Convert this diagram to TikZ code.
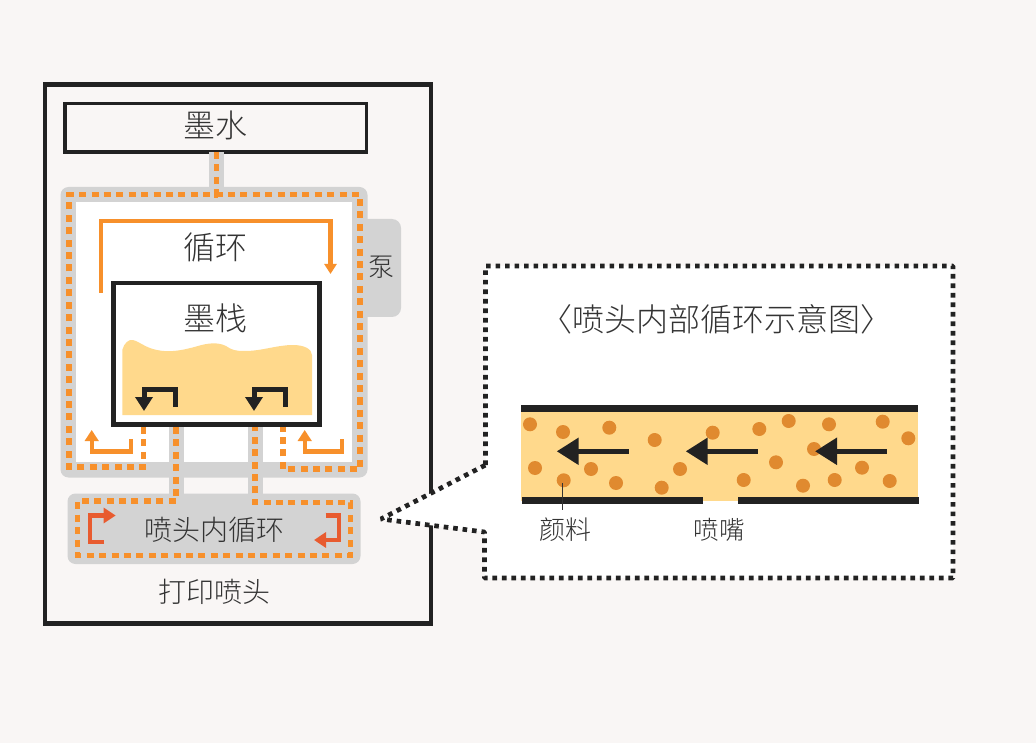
\documentclass[tikz,border=0pt]{standalone}
\usepackage{fontspec}
\setmainfont{Noto Sans CJK SC Light}
\usetikzlibrary{arrows.meta}
\definecolor{bgc}{HTML}{F9F6F5}
\definecolor{pipe}{HTML}{D3D3D3}
\definecolor{flow}{HTML}{F7902B}
\definecolor{redflow}{HTML}{E85B2F}
\definecolor{inkc}{HTML}{FFD98C}
\definecolor{dotc}{HTML}{E08A2F}
\definecolor{dark}{HTML}{222222}
\definecolor{txt}{HTML}{333333}
\tikzset{
  frame/.style={draw=dark,line width=#1,line join=miter},
  pipefill/.style={fill=pipe,draw=none},
  dashflow/.style={draw=flow,line width=5.4pt,dash pattern=on 7pt off 5.4pt,line join=miter},
  flowline/.style={draw=flow,line width=4.2pt,line join=miter,-{Triangle[length=10pt,width=12pt]}},
  smallflow/.style={draw=flow,line width=4.4pt,line join=miter,-{Triangle[length=11pt,width=13.5pt]}},
  redline/.style={draw=redflow,line width=4.8pt,line join=miter,-{Triangle[length=12pt,width=15pt]}},
  blackbend/.style={draw=dark,line width=5pt,line join=miter,-{Triangle[length=14pt,width=17pt]}},
  blackflow/.style={draw=dark,line width=5.4pt,-{Triangle[length=22pt,width=26pt]}},
  particle/.style={fill=dotc,draw=none},
  bar/.style={fill=dark,draw=none},
  label/.style={text=txt,inner sep=0pt,font=\fontsize{#1}{#1}\selectfont},
}
\begin{document}
\begin{tikzpicture}[x=1pt,y=-1pt]
\path[use as bounding box,fill=bgc] (0,0) rectangle (1036,743);
% outer frame and ink tank
\draw[frame=4.4pt] (45,84.5) rectangle (431,623.5);
\draw[frame=3.4pt] (65,103.5) rectangle (366.5,152);
% circulation pipe
\fill[pipefill] (209,152) rectangle (224,190);
\fill[pipefill,rounded corners=9pt] (340,219) rectangle (401,317);
\fill[pipefill,rounded corners=8pt] (60.5,187) rectangle (367.5,477.5);
\fill[white] (76,202) rectangle (352,462);
\fill[pipefill] (168.5,425) rectangle (184,500);
\fill[pipefill] (247.5,425) rectangle (263,500);
\fill[pipefill,rounded corners=8pt] (67.5,493.5) rectangle (360.5,564);
% dashed flow
\draw[dashflow] (216.5,152) -- (216.5,195) -- (223,195);
\draw[dashflow] (143.5,427) -- (143.5,467) -- (69,467) -- (69,194.8) -- (360,194.8) -- (360,469) -- (283,469) -- (283,427);
\draw[dashflow] (176,427) -- (176,501) -- (77.7,501) -- (77.7,555.3) -- (350.7,555.3) -- (350.7,502.7) -- (255,502.7) -- (255,427);
% ink stack
\draw[flowline] (101,293) -- (101,221) -- (330.5,221) -- (330.5,274);
\draw[frame=4.6pt,fill=white] (113.3,283) rectangle (319.3,424.7);
\fill[inkc] (122.3,415) -- (122.3,350)
  .. controls (124,343) and (129,339) .. (133,340)
  .. controls (140,342) and (146,348) .. (157,350)
  .. controls (170,353) and (184,350) .. (198,346)
  .. controls (208,343) and (218,342) .. (226,346)
  .. controls (232,350) and (235,351) .. (245,351)
  .. controls (262,351) and (277,345) .. (293,345)
  .. controls (304,345) and (312,349) .. (312,355) -- (312,415) -- cycle;
\draw[blackbend] (175,407) -- (175,389.5) -- (144,389.5) -- (144,411);
\draw[blackbend] (285.5,407) -- (285.5,389.5) -- (254,389.5) -- (254,411);
% small return arrows
\draw[smallflow] (130.7,439) -- (130.7,451.3) -- (91.7,451.3) -- (91.7,430);
\draw[smallflow] (342,439) -- (342,451.3) -- (304.7,451.3) -- (304.7,430);
% inner recirculation arrows
\draw[redline] (104,542) -- (90,542) -- (90,515.5) -- (115.7,515.5);
\draw[redline] (325.7,515.5) -- (339,515.5) -- (339,540) -- (314,540);
% callout
\draw[draw=dark,fill=white,line width=4.7pt,dash pattern=on 4.6pt off 4.9pt,line join=bevel]
  (485.5,465) -- (485.5,266) -- (953,266) -- (953,578) -- (484.5,578) -- (484.5,532) -- (381,519) -- cycle;
% tube
\fill[inkc] (520.7,412) rectangle (918,500.7);
\fill[bar] (520.7,404.7) rectangle (917.7,412.3);
\fill[bar] (521.7,497) rectangle (702.7,504.3);
\fill[bar] (737.7,497) rectangle (919,504.3);
\foreach \x/\y in {530/424.3,563/432,609.3/427.7,654.7/440,535/468,563.7/480.3,591/469,616/483,661.7/487.7,
  712.7/432.7,759.3/429,788.7/421,829/424.3,882.7/421.7,908.3/438.3,680/469,743.7/480,776/462.3,803/485.7,834.7/480,862/467.7,889.7/481,814/449}
  \fill[particle] (\x,\y) circle[radius=7pt];
\draw[blackflow] (628.5,451.3) -- (556.7,451.3);
\draw[blackflow] (757.5,451.3) -- (685.7,451.3);
\draw[blackflow] (886.7,451.3) -- (815,451.3);
\draw[draw=txt,line width=1pt] (562,483) -- (562,510);
% labels
\node[label=32] (ink) at (215.5,125.5) {墨水};
\node[label=32] (loop) at (215.5,247.5) {循环};
\node[label=26] (pump) at (381.5,267) {泵};
\node[label=32] (stack) at (215.5,318.5) {墨栈};
\node[label=28] (inner) at (214,529.5) {喷头内循环};
\node[label=28] (head) at (214,591.5) {打印喷头};
\node[label=26] (pig) at (565,530) {颜料};
\node[label=25.5] (noz) at (719,530) {喷嘴};
\node[label=32] (title) at (716,319) {〈喷头内部循环示意图〉};
\end{tikzpicture}
\end{document}
